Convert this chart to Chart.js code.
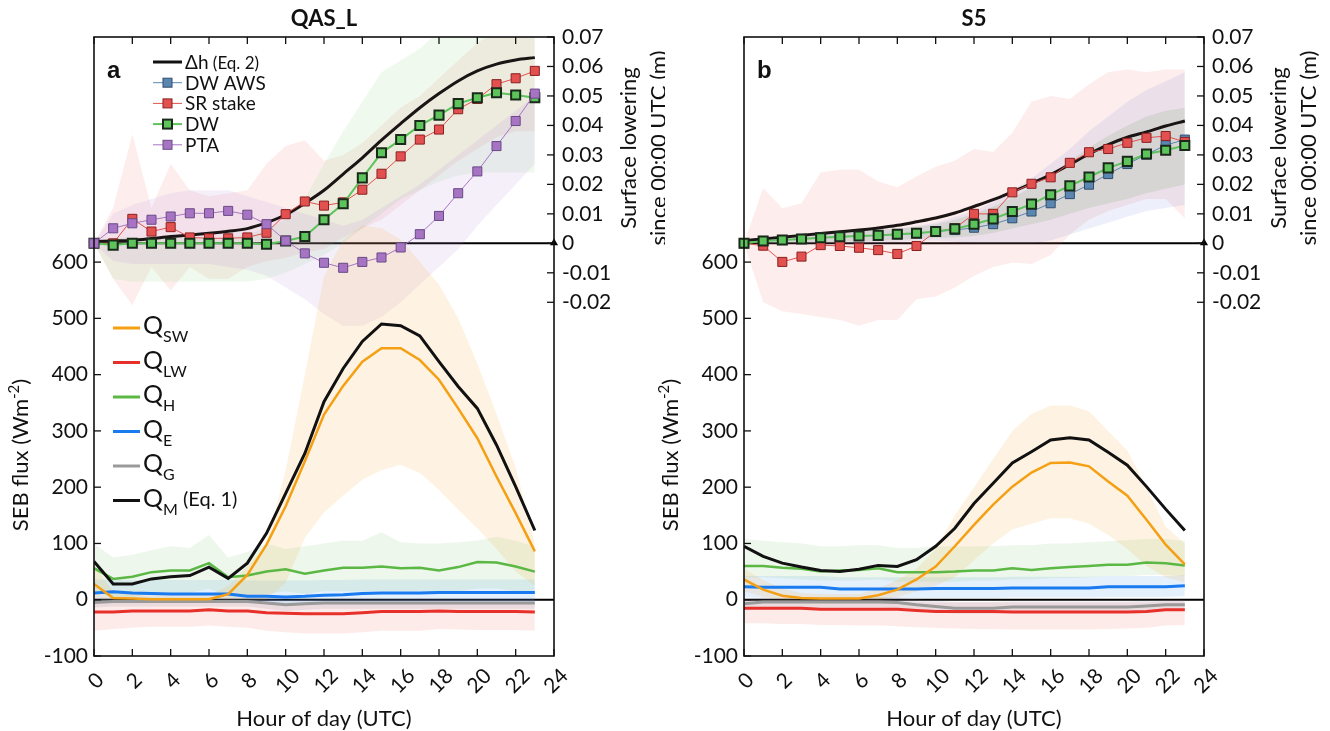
<!DOCTYPE html>
<html>
<head>
<meta charset="utf-8">
<script src="https://cdn.jsdelivr.net/npm/chart.js@4.4.1/dist/chart.umd.min.js"></script>
<style>
  html, body { margin: 0; padding: 0; background: #fff; width: 1330px; height: 731px; overflow: hidden; }
  canvas { position: absolute; top: 0; }
  #ca { left: 0; }
  #cb { left: 650px; }
</style>
</head>
<body>
<canvas id="ca" width="665" height="731"></canvas>
<canvas id="cb" width="680" height="731"></canvas>
<script>
/* QAS_L / S5 — hourly SEB fluxes (lower) and surface lowering (upper), two panels */

const HOURS = [0,1,2,3,4,5,6,7,8,9,10,11,12,13,14,15,16,17,18,19,20,21,22,23];
const HOUR_TICKS = [0,2,4,6,8,10,12,14,16,18,20,22,24];
const FLUX_TICKS = [-100,0,100,200,300,400,500,600];
const LOW_TICKS = [-0.02,-0.01,0,0.01,0.02,0.03,0.04,0.05,0.06,0.07];
const LOW_LABELS = ['-0.02','-0.01','0','0.01','0.02','0.03','0.04','0.05','0.06','0.07'];

// ---- panel a (QAS_L), SEB flux, W m-2
const qswA = [28,3,2,1,1,1,1,10,44,98,166,246,329,380,423,447,447,426,391,340,287,219,154,86];
const qlwA = [-22,-22,-20,-20,-20,-20,-18,-20,-20,-23,-24,-25,-25,-25,-23,-21,-21,-21,-20,-21,-21,-21,-21,-22];
const qhA  = [56,37,41,49,52,52,65,40,43,50,54,46,52,57,57,59,56,57,52,58,67,66,59,50];
const qeA  = [12,14,12,11,10,10,10,10,6,6,5,6,8,9,11,12,12,12,13,13,13,13,13,13];
const qgA  = [-5,-3,-3,-3,-3,-3,-3,-3,-3,-6,-9,-7,-6,-6,-6,-6,-6,-6,-6,-6,-6,-6,-6,-6];
const qmA  = [68,28,28,37,41,43,58,38,65,118,189,260,352,411,459,490,487,469,423,379,340,275,201,123];
// spread bands
const qswHiA = [60,15,10,8,8,8,8,25,60,100,230,400,575,640,665,660,640,600,560,500,420,330,235,100];
const qswLoA = [0,0,0,0,0,0,0,0,0,0,30,110,155,185,213,230,240,225,195,160,127,90,50,25];
const qhHiA  = [100,75,80,88,95,92,115,75,85,100,90,95,100,105,105,120,102,100,100,102,105,112,105,95];
const qhLoA  = [15,5,5,10,12,12,20,5,5,10,15,10,15,15,15,15,15,15,12,15,20,20,15,10];
const qeHiA  = [36,36,35,35,35,35,35,35,34,34,34,34,35,35,36,36,36,36,36,36,36,36,36,36];
const qeLoA  = [-4,-4,-4,-4,-4,-4,-4,-4,-5,-6,-6,-6,-5,-5,-4,-4,-4,-4,-4,-4,-4,-4,-4,-4];
const qgHiA  = [3,4,4,4,4,4,4,4,4,2,0,1,2,2,2,2,2,2,2,2,2,2,2,2];
const qgLoA  = [-14,-12,-12,-12,-12,-12,-12,-12,-12,-16,-20,-18,-16,-16,-16,-16,-16,-16,-16,-16,-16,-16,-16,-16];
const qlwHiA = [-4,-4,-3,-3,-3,-3,-2,-3,-3,-5,-6,-6,-6,-6,-5,-4,-4,-4,-3,-4,-4,-4,-4,-4];
const qlwLoA = [-55,-52,-50,-48,-48,-48,-46,-48,-50,-55,-58,-60,-60,-60,-58,-55,-55,-55,-52,-53,-54,-54,-54,-55];
// surface lowering since 00:00 UTC, m
const dhA  = [0.0006,0.0008,0.001,0.0016,0.0023,0.0028,0.0034,0.0041,0.005,0.007,0.0097,0.0136,0.018,0.0235,0.029,0.035,0.0406,0.046,0.0508,0.0551,0.0585,0.0608,0.0622,0.063];
const awsA = [];
const srA  = [0,0,0.0083,0.004,0.0055,0.002,0.0017,0.0017,0.002,0.0036,0.0099,0.0142,0.0128,0.0139,0.0182,0.0236,0.0295,0.0352,0.0386,0.0455,0.049,0.054,0.056,0.0585];
const dwA  = [0,-0.0006,0,0,0,0,0,0,0,-0.0003,0.0008,0.0023,0.008,0.0134,0.0222,0.0307,0.0352,0.04,0.0435,0.0474,0.0494,0.0511,0.0503,0.0494];
const ptaA = [0,0.0051,0.0068,0.008,0.0091,0.0102,0.0102,0.011,0.0097,0.0065,0.0009,-0.0034,-0.0066,-0.0083,-0.0063,-0.0048,-0.0014,0.0031,0.0093,0.017,0.0244,0.033,0.0415,0.0508];
const srHiA  = [0,0.012,0.037,0.012,0.027,0.018,0.016,0.017,0.018,0.027,0.033,0.035,0.028,0.03,0.034,0.04,0.046,0.05,0.056,0.062,0.068,0.072,0.075,0.075];
const srLoA  = [0,-0.012,-0.021,-0.008,-0.016,-0.008,-0.012,-0.012,-0.008,-0.006,-0.005,-0.003,-0.002,0.002,0.005,0.008,0.013,0.018,0.023,0.028,0.032,0.036,0.038,0.038];
const dwHiA  = [0,0.002,0.002,0.002,0.002,0.002,0.002,0.002,0.003,0.005,0.008,0.015,0.027,0.038,0.048,0.058,0.062,0.066,0.072,0.075,0.078,0.08,0.08,0.08];
const dwLoA  = [0,-0.012,-0.013,-0.013,-0.013,-0.013,-0.013,-0.013,-0.013,-0.012,-0.01,-0.007,-0.004,0,0.005,0.01,0.015,0.018,0.021,0.023,0.024,0.024,0.024,0.024];
const ptaHiA = [0,0.01,0.013,0.015,0.017,0.018,0.018,0.018,0.016,0.014,0.012,0.01,0.008,0.006,0.008,0.012,0.016,0.02,0.025,0.03,0.035,0.04,0.045,0.05];
const ptaLoA = [0,-0.006,-0.007,-0.007,-0.007,-0.007,-0.007,-0.008,-0.009,-0.011,-0.015,-0.019,-0.024,-0.028,-0.028,-0.025,-0.02,-0.014,-0.008,-0.002,0.006,0.013,0.02,0.027];

// ---- panel b (S5)
const qswB = [36,18,7,3,2,2,2,8,18,36,59,95,133,169,201,226,243,244,237,210,185,142,98,63];
const qlwB = [-15,-15,-15,-15,-17,-17,-17,-17,-17,-19,-21,-21,-21,-21,-22,-22,-22,-22,-22,-22,-22,-21,-18,-18];
const qhB  = [60,60,57,55,50,52,53,56,49,49,49,50,52,52,56,53,56,58,60,62,62,66,65,61];
const qeB  = [23,22,22,22,22,19,19,19,19,19,20,20,20,20,21,21,21,21,21,23,23,23,23,25];
const qgB  = [-7,-4,-4,-4,-4,-4,-4,-4,-5,-9,-12,-15,-15,-15,-13,-13,-13,-13,-13,-13,-13,-11,-9,-9];
const qmB  = [95,77,65,58,52,50,54,61,59,71,95,127,171,207,243,263,284,288,284,262,239,201,161,123];
const qswHiB = [55,35,20,12,10,10,10,20,35,55,90,150,200,250,300,330,345,345,335,300,265,200,130,100];
const qswLoB = [15,5,0,0,0,0,0,0,5,15,25,40,70,100,125,135,145,145,135,115,90,60,40,30];
const qhHiB  = [108,105,102,100,95,95,97,97,92,92,95,95,95,95,97,97,100,100,102,104,106,108,108,105];
const qhLoB  = [40,40,38,36,34,34,34,36,32,32,32,32,34,34,36,36,38,38,40,42,42,44,44,42];
const qeHiB  = [42,42,42,42,42,40,40,40,40,40,40,40,40,40,41,41,41,41,41,42,42,42,42,44];
const qeLoB  = [5,5,5,5,5,3,3,3,3,3,3,3,3,3,4,4,4,4,4,5,5,5,5,6];
const qgHiB  = [3,5,5,5,5,5,5,5,4,1,-2,-4,-4,-4,-3,-3,-3,-3,-3,-3,-3,-2,0,0];
const qgLoB  = [-18,-14,-14,-14,-14,-14,-14,-14,-15,-19,-22,-25,-25,-25,-23,-23,-23,-23,-23,-23,-23,-21,-19,-19];
const qlwHiB = [-2,-2,-2,-2,-3,-3,-3,-3,-3,-4,-5,-5,-5,-5,-5,-5,-5,-5,-5,-5,-5,-5,-3,-3];
const qlwLoB = [-42,-42,-43,-43,-45,-45,-46,-46,-47,-49,-50,-51,-52,-52,-53,-53,-53,-53,-53,-52,-51,-50,-46,-45];
const dhB  = [0.0009,0.0015,0.0021,0.0027,0.0033,0.0039,0.0045,0.0052,0.0061,0.0073,0.0086,0.0103,0.0125,0.0148,0.0175,0.0203,0.0233,0.0268,0.0303,0.0335,0.036,0.0378,0.0398,0.0415];
const awsB = [0,0.0008,0.0011,0.0015,0.0019,0.0022,0.0025,0.0027,0.0031,0.0034,0.004,0.0045,0.0053,0.0065,0.0085,0.0108,0.0136,0.0167,0.0199,0.0235,0.0269,0.0301,0.0333,0.0352];
const srB  = [0,-0.0008,-0.0063,-0.0045,-0.0006,-0.0009,-0.0015,-0.0023,-0.0036,-0.0009,0.004,0.0051,0.01,0.01,0.0173,0.0202,0.0224,0.0273,0.0309,0.032,0.0341,0.0358,0.0364,0.0344];
const dwB  = [0,0.0008,0.0011,0.0015,0.0019,0.0022,0.0025,0.0027,0.0031,0.0034,0.004,0.0049,0.0065,0.0083,0.0108,0.0133,0.0165,0.0195,0.0225,0.0256,0.0278,0.0303,0.0316,0.0332];
const srHiB  = [0,0.0188,0.0119,0.0136,0.024,0.025,0.025,0.021,0.019,0.0227,0.026,0.028,0.032,0.031,0.0375,0.048,0.05,0.049,0.054,0.058,0.059,0.058,0.059,0.059];
const srLoB  = [0,-0.02,-0.023,-0.024,-0.025,-0.026,-0.028,-0.026,-0.026,-0.019,-0.018,-0.015,-0.011,-0.008,-0.0065,-0.007,-0.004,0.003,0.008,0.011,0.013,0.015,0.015,0.0085];
const dwHiB  = [0,0.0015,0.002,0.0025,0.003,0.0035,0.004,0.0045,0.005,0.0055,0.0065,0.008,0.01,0.0125,0.0155,0.019,0.0235,0.028,0.0325,0.0365,0.04,0.043,0.045,0.046];
const dwLoB  = [0,0,0,0,0.0003,0.0005,0.0007,0.001,0.0012,0.0015,0.0018,0.002,0.0025,0.0035,0.005,0.0065,0.008,0.01,0.012,0.0135,0.015,0.017,0.0185,0.02];
const awsHiB = [0,0.0015,0.002,0.0025,0.003,0.0035,0.004,0.0045,0.005,0.006,0.007,0.009,0.011,0.014,0.018,0.022,0.027,0.032,0.038,0.043,0.048,0.052,0.055,0.058];
const awsLoB = [0,0,0,0,0,0,0,0,0.0005,0.001,0.001,0.0005,0,0,0,0,0.001,0.003,0.005,0.007,0.009,0.011,0.012,0.013];

const FONT = 'Lato, "Open Sans", sans-serif';
const C = {
  sw: '#f49f14', lw: '#e8302a', h: '#5cb845', e: '#1a7af0', g: '#9a9a9a', m: '#111',
  sr: '#e2514f', dw: '#5cc45a', pta: '#a774c4', aws: '#5a86b0'
};

const pts = arr => arr.map((v, i) => ({ x: HOURS[i], y: v }));

function band(lo, hi, color, axis) {
  return [
    { data: pts(lo), yAxisID: axis, borderWidth: 0, pointRadius: 0, fill: false, order: 100 },
    { data: pts(hi), yAxisID: axis, borderWidth: 0, pointRadius: 0, fill: '-1', backgroundColor: color, order: 100 }
  ];
}

function lineDs(arr, color, width, axis, order, extra = {}) {
  return Object.assign({
    data: pts(arr), yAxisID: axis, borderColor: color, borderWidth: width,
    pointRadius: 0, fill: false, tension: 0, order
  }, extra);
}

function markDs(arr, color, fillC, edge, lw, ew, order) {
  return {
    data: pts(arr), yAxisID: 'y2', borderColor: color, borderWidth: lw, fill: false, tension: 0,
    pointStyle: 'rect', pointRadius: 6.4, pointBackgroundColor: fillC, pointBorderColor: edge,
    pointBorderWidth: ew, clip: 12, order
  };
}

function rich(ctx, parts, x, y, align) {
  // parts: [{t, size, dy}] drawn on one baseline, dy shifts sub/superscripts
  let w = 0;
  parts.forEach(p => { ctx.font = `${p.size}px ${FONT}`; p.w = ctx.measureText(p.t).width; w += p.w; });
  let cx = align === 'center' ? x - w / 2 : x;
  ctx.textAlign = 'left';
  parts.forEach(p => { ctx.font = `${p.size}px ${FONT}`; ctx.fillText(p.t, cx, y + (p.dy || 0)); cx += p.w; });
}

const framePlugin = {
  id: 'frame',
  beforeDatasetsDraw(chart) {
    const { ctx, chartArea: a, scales: { y, y2 } } = chart;
    ctx.save();
    ctx.strokeStyle = '#000';
    ctx.lineWidth = 2;
    [y.getPixelForValue(0), y2.getPixelForValue(0)].forEach(py => {
      ctx.beginPath(); ctx.moveTo(a.left, py); ctx.lineTo(a.right, py); ctx.stroke();
    });
    const z = y2.getPixelForValue(0);
    ctx.fillStyle = '#000';
    [a.left, a.right].forEach(px => {
      ctx.beginPath(); ctx.moveTo(px - 4, z + 2); ctx.lineTo(px + 4, z + 2); ctx.lineTo(px, z - 5); ctx.closePath(); ctx.fill();
    });
    ctx.restore();
  },
  afterDraw(chart, args, o) {
    const { ctx, chartArea: a, scales: { x, y, y2 } } = chart;
    ctx.save();
    ctx.strokeStyle = '#111';
    ctx.fillStyle = '#111';
    ctx.lineWidth = 1.6;
    ctx.strokeRect(a.left, a.top, a.right - a.left, a.bottom - a.top);
    ctx.lineWidth = 1.3;
    const T = 7;
    HOUR_TICKS.forEach(h => {
      const px = x.getPixelForValue(h);
      ctx.beginPath();
      ctx.moveTo(px, a.bottom); ctx.lineTo(px, a.bottom - T);
      ctx.moveTo(px, a.top); ctx.lineTo(px, a.top + T);
      ctx.stroke();
    });
    FLUX_TICKS.forEach(v => {
      const py = y.getPixelForValue(v);
      ctx.beginPath(); ctx.moveTo(a.left, py); ctx.lineTo(a.left + T, py); ctx.stroke();
    });
    LOW_TICKS.forEach(v => {
      const py = y2.getPixelForValue(v);
      ctx.beginPath(); ctx.moveTo(a.right, py); ctx.lineTo(a.right - T, py); ctx.stroke();
    });

    // tick labels
    ctx.font = `21px ${FONT}`;
    ctx.textBaseline = 'middle';
    ctx.textAlign = 'right';
    FLUX_TICKS.forEach(v => ctx.fillText(String(v), a.left - 6, y.getPixelForValue(v)));
    ctx.textAlign = 'left';
    LOW_TICKS.forEach((v, i) => ctx.fillText(LOW_LABELS[i], a.right + 8, y2.getPixelForValue(v)));
    ctx.textAlign = 'center';
    HOUR_TICKS.forEach(h => {
      ctx.save();
      ctx.translate(x.getPixelForValue(h) + 2, a.bottom + 25);
      ctx.rotate(-Math.PI / 4);
      ctx.fillText(String(h), 0, 0);
      ctx.restore();
    });

    // axis titles
    ctx.textBaseline = 'alphabetic';
    ctx.font = `22px ${FONT}`;
    ctx.fillText('Hour of day (UTC)', (a.left + a.right) / 2, a.bottom + 70);
    ctx.save();
    ctx.translate(a.left - 66, 455);
    ctx.rotate(-Math.PI / 2);
    rich(ctx, [{ t: 'SEB flux (Wm', size: 22 }, { t: '-2', size: 15, dy: -9 }, { t: ')', size: 22 }], 0, 0, 'center');
    ctx.restore();
    ctx.save();
    ctx.translate(a.right + 82, 148);
    ctx.rotate(-Math.PI / 2);
    ctx.font = `22px ${FONT}`;
    ctx.textAlign = 'center';
    ctx.fillText('Surface lowering', 0, 0);
    ctx.fillText('since 00:00 UTC (m)', 0, 30);
    ctx.restore();

    // panel title and letter
    ctx.textAlign = 'center';
    ctx.font = `bold 22px ${FONT}`;
    ctx.fillText(o.title, (a.left + a.right) / 2, 26);
    ctx.textAlign = 'left';
    ctx.font = 'bold 24px "Liberation Sans", Arial, sans-serif';
    ctx.fillText(o.letter, a.left + 13, 78);

    if (o.legend) drawLegends(ctx);
    ctx.restore();
  }
};

function drawLegends(ctx) {
  // upper legend (surface lowering)
  const up = [
    { c: '#111', w: 3, mark: null, parts: [{ t: 'Δh', size: 19 }, { t: ' (Eq. 2)', size: 17 }] },
    { c: C.aws, w: 1, mark: [C.aws, '#2f4f6f', 1], parts: [{ t: 'DW AWS', size: 19 }] },
    { c: C.sr, w: 1, mark: [C.sr, '#8a2020', 1], parts: [{ t: 'SR stake', size: 19 }] },
    { c: C.dw, w: 2, mark: [C.dw, '#1a2a1a', 2], parts: [{ t: 'DW', size: 19 }] },
    { c: C.pta, w: 1, mark: [C.pta, '#6a4a86', 1], parts: [{ t: 'PTA', size: 19 }] }
  ];
  up.forEach((e, i) => {
    const cy = 62 + i * 20.7;
    ctx.strokeStyle = e.c; ctx.lineWidth = e.w;
    ctx.beginPath(); ctx.moveTo(153, cy); ctx.lineTo(182, cy); ctx.stroke();
    if (e.mark) {
      ctx.fillStyle = e.mark[0]; ctx.strokeStyle = e.mark[1]; ctx.lineWidth = e.mark[2];
      ctx.fillRect(163, cy - 4.5, 9, 9); ctx.strokeRect(163, cy - 4.5, 9, 9);
    }
    ctx.fillStyle = '#111';
    rich(ctx, e.parts, 185, cy + 7, 'left');
  });
  // lower legend (SEB fluxes)
  const low = [
    { c: C.sw, sub: 'SW' }, { c: C.lw, sub: 'LW' }, { c: C.h, sub: 'H' },
    { c: C.e, sub: 'E' }, { c: C.g, sub: 'G' }, { c: C.m, sub: 'M', extra: ' (Eq. 1)' }
  ];
  low.forEach((e, i) => {
    const cy = 328 + i * 34.5;
    ctx.strokeStyle = e.c; ctx.lineWidth = 3;
    ctx.beginPath(); ctx.moveTo(113, cy); ctx.lineTo(140, cy); ctx.stroke();
    ctx.fillStyle = '#111';
    const parts = [{ t: 'Q', size: 25 }, { t: e.sub, size: 16, dy: 8 }];
    if (e.extra) parts.push({ t: e.extra, size: 20, dy: -1 });
    rich(ctx, parts, 143, cy + 6, 'left');
  });
}

function makeChart(id, padRight, d, opts) {
  const datasets = [
    ...band(d.qswLo, d.qswHi, 'rgba(245,165,30,0.13)', 'y'),
    ...band(d.qhLo, d.qhHi, 'rgba(90,185,70,0.11)', 'y'),
    ...band(d.qeLo, d.qeHi, 'rgba(40,130,235,0.12)', 'y'),
    ...band(d.qgLo, d.qgHi, 'rgba(130,120,150,0.14)', 'y'),
    ...band(d.qlwLo, d.qlwHi, 'rgba(235,60,50,0.10)', 'y'),
    ...d.upBands,
    lineDs(d.qg, C.g, 3, 'y', 60),
    lineDs(d.qlw, C.lw, 3, 'y', 59),
    lineDs(d.qe, C.e, 3, 'y', 58),
    lineDs(d.qh, C.h, 2.5, 'y', 57),
    lineDs(d.qsw, C.sw, 2.5, 'y', 56),
    lineDs(d.qm, C.m, 3, 'y', 55),
    lineDs(d.dh, '#1a1414', 3, 'y2', 30, { cubicInterpolationMode: 'monotone' }),
    ...d.marks
  ];
  return new Chart(document.getElementById(id), {
    type: 'line',
    data: { datasets },
    options: {
      responsive: false,
      animation: false,
      events: [],
      layout: { padding: { left: 94, right: padRight, top: 37, bottom: 75 } },
      scales: {
        x: { type: 'linear', min: 0, max: 24, display: false },
        y: { type: 'linear', min: -100, max: 1000, display: false },
        y2: { type: 'linear', min: -0.14, max: 0.07, display: false }
      },
      plugins: { legend: { display: false }, tooltip: { enabled: false }, frame: opts }
    },
    plugins: [framePlugin]
  });
}

makeChart('ca', 111, {
  qsw: qswA, qlw: qlwA, qh: qhA, qe: qeA, qg: qgA, qm: qmA, dh: dhA,
  qswLo: qswLoA, qswHi: qswHiA, qhLo: qhLoA, qhHi: qhHiA, qeLo: qeLoA, qeHi: qeHiA,
  qgLo: qgLoA, qgHi: qgHiA, qlwLo: qlwLoA, qlwHi: qlwHiA,
  upBands: [
    ...band(ptaLoA, ptaHiA, 'rgba(170,120,210,0.12)', 'y2'),
    ...band(dwLoA, dwHiA, 'rgba(100,200,90,0.10)', 'y2'),
    ...band(srLoA, srHiA, 'rgba(235,90,80,0.10)', 'y2')
  ],
  marks: [
    markDs(awsA, C.aws, C.aws, '#2f4f6f', 1, 1, 14),
    markDs(srA, C.sr, C.sr, '#8a2020', 1, 1, 13),
    markDs(dwA, C.dw, C.dw, '#1a2a1a', 2, 2, 12),
    markDs(ptaA, C.pta, C.pta, '#6a4a86', 1, 1, 11)
  ]
}, { title: 'QAS_L', letter: 'a', legend: true });

makeChart('cb', 126, {
  qsw: qswB, qlw: qlwB, qh: qhB, qe: qeB, qg: qgB, qm: qmB, dh: dhB,
  qswLo: qswLoB, qswHi: qswHiB, qhLo: qhLoB, qhHi: qhHiB, qeLo: qeLoB, qeHi: qeHiB,
  qgLo: qgLoB, qgHi: qgHiB, qlwLo: qlwLoB, qlwHi: qlwHiB,
  upBands: [
    ...band(awsLoB, awsHiB, 'rgba(110,130,220,0.12)', 'y2'),
    ...band(dwLoB, dwHiB, 'rgba(110,150,80,0.16)', 'y2'),
    ...band(srLoB, srHiB, 'rgba(235,90,80,0.11)', 'y2')
  ],
  marks: [
    markDs(awsB, C.aws, C.aws, '#2f4f6f', 1, 1, 14),
    markDs(srB, C.sr, C.sr, '#8a2020', 1, 1, 13),
    markDs(dwB, C.dw, C.dw, '#1a2a1a', 2, 2, 12)
  ]
}, { title: 'S5', letter: 'b', legend: false });
</script>
</body>
</html>
